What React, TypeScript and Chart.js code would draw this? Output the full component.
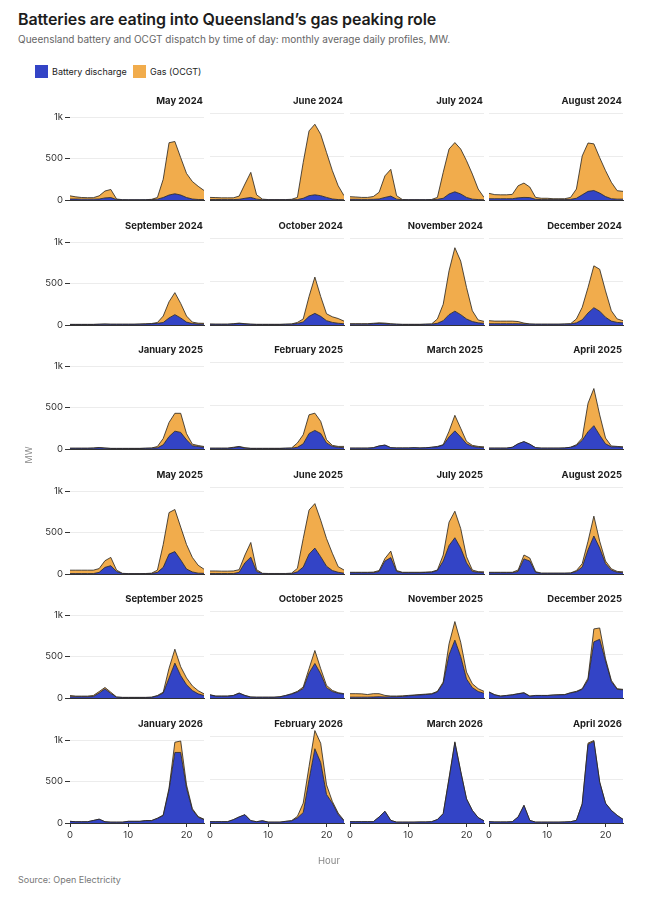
import React, { useEffect, useRef } from "react";
import { Chart, registerables } from "chart.js";

Chart.register(...registerables);

// ---------- data ----------
const MONTHS = [
  "May 2024", "June 2024", "July 2024", "August 2024",
  "September 2024", "October 2024", "November 2024", "December 2024",
  "January 2025", "February 2025", "March 2025", "April 2025",
  "May 2025", "June 2025", "July 2025", "August 2025",
  "September 2025", "October 2025", "November 2025", "December 2025",
  "January 2026", "February 2026", "March 2026", "April 2026",
];

const HOURS = [0, 1, 2, 3, 4, 5, 6, 7, 8, 9, 10, 11, 12, 13, 14, 15, 16, 17, 18, 19, 20, 21, 22, 23];

const Y_TICKS = [0, 500, 1000];
const Y_TICK_LABELS = ["0", "500", "1k"];
const X_TICKS = [0, 10, 20];
const X_TICK_LABELS = ["0", "10", "20"];

// Battery discharge, MW, by hour (one row per month)
const BATTERY = [
  [12, 12, 10, 10, 10, 12, 25, 30, 5, 2, 2, 2, 2, 2, 4, 10, 30, 60, 75, 60, 30, 12, 6, 5],
  [6, 6, 5, 5, 5, 8, 20, 30, 10, 3, 2, 2, 2, 2, 3, 5, 20, 50, 60, 50, 30, 12, 5, 3],
  [8, 8, 7, 7, 8, 12, 30, 45, 10, 3, 2, 2, 2, 2, 3, 8, 20, 70, 95, 70, 30, 10, 5, 3],
  [15, 15, 15, 15, 15, 25, 30, 28, 8, 5, 5, 5, 5, 5, 8, 20, 60, 100, 110, 80, 40, 15, 10, 10],
  [6, 6, 6, 6, 6, 8, 10, 8, 8, 8, 8, 8, 10, 12, 15, 20, 30, 85, 125, 85, 35, 18, 12, 10],
  [8, 8, 8, 8, 12, 18, 12, 8, 6, 6, 6, 6, 6, 8, 10, 18, 35, 100, 135, 100, 50, 30, 20, 15],
  [10, 10, 10, 10, 15, 18, 15, 10, 8, 6, 6, 6, 6, 8, 10, 20, 50, 120, 160, 120, 70, 40, 25, 20],
  [15, 15, 15, 15, 15, 15, 12, 10, 8, 8, 8, 8, 8, 10, 12, 25, 60, 140, 200, 160, 90, 45, 30, 25],
  [8, 8, 8, 8, 10, 15, 10, 6, 6, 6, 6, 6, 6, 8, 10, 15, 50, 150, 215, 200, 110, 40, 30, 20],
  [8, 8, 8, 8, 15, 25, 10, 6, 6, 6, 6, 6, 6, 8, 10, 20, 60, 180, 215, 180, 70, 30, 20, 15],
  [10, 10, 10, 10, 15, 35, 45, 15, 12, 12, 12, 15, 12, 14, 20, 25, 45, 140, 210, 140, 60, 30, 20, 15],
  [10, 10, 10, 10, 20, 60, 85, 55, 15, 10, 10, 10, 10, 12, 20, 40, 100, 200, 270, 160, 60, 25, 25, 20],
  [5, 5, 5, 5, 5, 20, 80, 100, 30, 5, 3, 3, 3, 4, 6, 20, 80, 240, 270, 170, 60, 25, 10, 8],
  [5, 5, 5, 5, 5, 20, 130, 195, 30, 5, 3, 3, 3, 3, 5, 25, 80, 230, 300, 200, 90, 40, 20, 10],
  [15, 15, 15, 15, 15, 30, 150, 190, 30, 15, 15, 15, 15, 18, 20, 40, 150, 330, 420, 300, 130, 30, 20, 15],
  [15, 15, 15, 15, 15, 30, 175, 150, 20, 8, 8, 8, 8, 8, 10, 30, 80, 280, 440, 300, 120, 45, 20, 15],
  [15, 15, 15, 15, 18, 60, 110, 55, 10, 6, 6, 6, 6, 6, 8, 25, 60, 240, 420, 270, 160, 90, 50, 30],
  [35, 20, 20, 20, 28, 55, 28, 10, 8, 8, 8, 8, 13, 28, 45, 70, 110, 290, 400, 280, 120, 75, 55, 45],
  [10, 10, 10, 10, 12, 15, 12, 15, 15, 18, 25, 30, 35, 40, 45, 70, 170, 500, 670, 480, 220, 120, 75, 55],
  [68, 35, 20, 28, 35, 48, 58, 20, 28, 28, 28, 33, 36, 38, 58, 72, 100, 210, 650, 680, 430, 190, 100, 95],
  [20, 15, 15, 15, 30, 46, 15, 10, 10, 10, 20, 20, 20, 28, 28, 55, 90, 400, 850, 850, 420, 160, 70, 40],
  [15, 15, 15, 15, 38, 70, 96, 27, 15, 25, 10, 10, 10, 18, 25, 60, 120, 500, 860, 700, 330, 230, 100, 25],
  [15, 15, 15, 15, 15, 70, 135, 30, 10, 10, 10, 10, 12, 12, 15, 40, 108, 510, 930, 595, 278, 145, 62, 25],
  [15, 12, 12, 12, 15, 70, 204, 30, 10, 10, 10, 10, 10, 12, 15, 30, 220, 910, 945, 470, 228, 145, 88, 42],
];

// Gas (OCGT), MW, by hour (one row per month)
const GAS = [
  [38, 26, 20, 18, 18, 38, 83, 97, 7, 2, 1, 1, 1, 2, 4, 20, 220, 630, 630, 450, 290, 211, 159, 110],
  [24, 22, 20, 20, 20, 37, 165, 290, 50, 7, 3, 3, 3, 3, 5, 25, 415, 750, 817, 710, 520, 328, 160, 47],
  [30, 27, 23, 23, 32, 78, 250, 310, 40, 2, 2, 2, 2, 2, 3, 22, 300, 520, 570, 520, 425, 290, 122, 27],
  [62, 47, 45, 45, 50, 140, 166, 122, 22, 15, 15, 10, 10, 10, 22, 107, 450, 560, 540, 410, 300, 190, 98, 90],
  [2, 2, 2, 2, 2, 2, 2, 2, 2, 2, 2, 2, 2, 2, 3, 10, 78, 195, 265, 175, 73, 17, 10, 10],
  [4, 2, 2, 2, 3, 4, 3, 2, 2, 2, 2, 2, 2, 2, 2, 12, 35, 230, 420, 230, 80, 65, 55, 30],
  [5, 5, 5, 5, 5, 7, 7, 5, 2, 2, 2, 2, 2, 2, 2, 50, 190, 507, 735, 620, 365, 125, 33, 22],
  [35, 30, 30, 30, 30, 25, 10, 2, 2, 2, 2, 2, 2, 2, 3, 45, 145, 295, 485, 485, 305, 120, 40, 25],
  [2, 2, 2, 2, 2, 3, 2, 2, 2, 2, 2, 2, 2, 2, 2, 15, 77, 170, 215, 230, 75, 18, 12, 10],
  [2, 2, 2, 2, 5, 5, 5, 2, 2, 2, 2, 2, 2, 2, 2, 50, 105, 216, 200, 140, 38, 12, 10, 15],
  [0, 0, 0, 0, 0, 0, 0, 0, 0, 0, 0, 0, 0, 0, 0, 5, 5, 65, 180, 100, 28, 12, 10, 10],
  [0, 0, 0, 0, 0, 0, 0, 0, 0, 0, 0, 0, 0, 0, 0, 10, 27, 330, 430, 235, 67, 10, 5, 5],
  [41, 41, 41, 41, 41, 45, 80, 100, 16, 3, 2, 2, 2, 2, 4, 26, 275, 500, 507, 395, 295, 175, 95, 50],
  [30, 30, 28, 28, 30, 30, 90, 170, 20, 3, 3, 3, 3, 3, 5, 40, 330, 510, 515, 423, 320, 200, 65, 36],
  [5, 5, 5, 5, 7, 10, 30, 75, 10, 5, 5, 5, 5, 4, 5, 6, 70, 270, 307, 227, 70, 16, 7, 10],
  [5, 5, 5, 5, 5, 16, 45, 35, 7, 2, 2, 2, 2, 2, 2, 10, 40, 100, 230, 80, 30, 15, 10, 10],
  [15, 8, 8, 8, 12, 17, 17, 15, 2, 2, 2, 2, 2, 2, 2, 5, 10, 118, 168, 107, 82, 56, 38, 20],
  [3, 3, 3, 3, 2, 3, 2, 2, 2, 2, 2, 2, 2, 2, 5, 7, 17, 50, 150, 60, 26, 13, 7, 5],
  [40, 40, 38, 30, 38, 35, 18, 8, 8, 7, 5, 5, 5, 5, 5, 7, 15, 127, 215, 166, 80, 45, 33, 22],
  [2, 3, 3, 2, 3, 2, 4, 3, 2, 2, 2, 2, 2, 2, 4, 5, 8, 20, 150, 131, 24, 14, 8, 5],
  [0, 0, 0, 0, 0, 0, 0, 0, 0, 0, 0, 0, 0, 2, 2, 3, 6, 20, 123, 138, 40, 13, 7, 6],
  [0, 0, 0, 0, 0, 0, 0, 0, 0, 2, 0, 0, 0, 2, 2, 17, 110, 154, 210, 223, 112, 20, 15, 5],
  [0, 0, 0, 0, 0, 0, 0, 0, 0, 0, 0, 0, 0, 0, 0, 0, 2, 10, 10, 5, 2, 1, 0, 0],
  [0, 0, 0, 0, 0, 0, 0, 0, 0, 0, 0, 0, 0, 0, 0, 0, 3, 15, 10, 5, 2, 1, 0, 0],
];

// ---------- style / layout ----------
const BLUE = "rgb(51, 68, 198)";
const ORANGE = "rgb(241, 172, 76)";
const OUTLINE = "rgba(40, 36, 30, 0.9)";
const FONT = "Inter, 'Noto Sans', sans-serif";

const COL_LEFT = [70, 210, 350, 489];
const ROW_ZERO = [200, 325, 449, 574, 698, 823];
const PLOT_W = 134;
const PLOT_H = 95; // 0..1100 MW
const Y_MAX = 1100;
const PAD_TOP = 4;
const PAD_RIGHT = 4;
const PAD_BOTTOM = 9;
const Y_AXIS_W = 50;
const X_AXIS_H = 22;

function Panel({ idx }: { idx: number }) {
  const ref = useRef<HTMLCanvasElement>(null);
  const r = Math.floor(idx / 4);
  const c = idx % 4;
  const leftExtra = c === 0 ? Y_AXIS_W : 10;
  const bottomExtra = r === 5 ? X_AXIS_H : PAD_BOTTOM;
  const width = leftExtra + PLOT_W + PAD_RIGHT;
  const height = PAD_TOP + PLOT_H + bottomExtra;
  const left = COL_LEFT[c] - leftExtra;
  const top = ROW_ZERO[r] - PLOT_H - PAD_TOP;

  useEffect(() => {
    if (!ref.current) return;
    const toPts = (arr: number[]) => arr.map((v, i) => ({ x: HOURS[i], y: v }));
    const chart = new Chart(ref.current, {
      type: "line",
      data: {
        datasets: [
          {
            label: "Battery discharge",
            data: toPts(BATTERY[idx]),
            fill: "origin",
            backgroundColor: BLUE,
            borderColor: OUTLINE,
            borderWidth: 0.9,
            pointRadius: 0,
            tension: 0,
          },
          {
            label: "Gas (OCGT)",
            data: toPts(GAS[idx]),
            fill: "-1",
            backgroundColor: ORANGE,
            borderColor: OUTLINE,
            borderWidth: 0.9,
            pointRadius: 0,
            tension: 0,
          },
        ],
      },
      options: {
        animation: false,
        responsive: true,
        maintainAspectRatio: false,
        layout: {
          padding: {
            left: c === 0 ? 0 : 10,
            right: PAD_RIGHT,
            top: PAD_TOP,
            bottom: r === 5 ? 0 : PAD_BOTTOM,
          },
        },
        plugins: {
          legend: { display: false },
          tooltip: { enabled: false },
          title: { display: false },
        },
        scales: {
          x: {
            type: "linear",
            min: 0,
            max: 23,
            afterBuildTicks: (s: any) => {
              s.ticks = X_TICKS.map((v) => ({ value: v }));
            },
            afterFit: (s: any) => {
              s.height = r === 5 ? X_AXIS_H : 0;
            },
            ticks: {
              display: r === 5,
              padding: 2,
              color: "#333",
              font: { family: FONT, size: 9.5 },
              maxRotation: 0,
              callback: (v: any) => {
                const i = X_TICKS.indexOf(Number(v));
                return i >= 0 ? X_TICK_LABELS[i] : "";
              },
            },
            grid: {
              drawOnChartArea: false,
              drawTicks: r === 5,
              tickLength: 4,
              tickColor: "#333",
              tickWidth: 1,
            },
            border: { display: true, color: "#333", width: 1, z: 1 },
          },
          y: {
            type: "linear",
            stacked: true,
            min: 0,
            max: Y_MAX,
            afterBuildTicks: (s: any) => {
              s.ticks = Y_TICKS.map((v) => ({ value: v }));
            },
            afterFit: (s: any) => {
              s.width = c === 0 ? Y_AXIS_W : 0;
            },
            ticks: {
              display: c === 0,
              padding: 2,
              color: "#333",
              font: { family: FONT, size: 9.5 },
              callback: (v: any) => {
                const i = Y_TICKS.indexOf(Number(v));
                return i >= 0 ? Y_TICK_LABELS[i] : "";
              },
            },
            grid: {
              color: "#ececec",
              lineWidth: 1,
              drawTicks: c === 0,
              tickLength: 5,
              tickColor: "#333",
              tickWidth: 1,
            },
            border: { display: false },
          },
        },
      },
    });
    return () => chart.destroy();
  }, [idx]);

  return (
    <>
      <div style={{ position: "absolute", left, top, width, height }}>
        <canvas ref={ref} />
      </div>
      <div
        style={{
          position: "absolute",
          left: COL_LEFT[c],
          width: PLOT_W - 1,
          top: ROW_ZERO[r] - 106,
          height: 13,
          lineHeight: "13px",
          textAlign: "right",
          fontSize: 9.5,
          fontWeight: 700,
          color: "#1c1c1c",
          whiteSpace: "nowrap",
        }}
      >
        {MONTHS[idx]}
      </div>
    </>
  );
}

export default function App() {
  return (
    <div
      style={{
        position: "absolute",
        left: 0,
        top: 0,
        width: 658,
        height: 900,
        background: "#fff",
        fontFamily: FONT,
        color: "#1c1c1c",
        overflow: "hidden",
      }}
    >
      <div
        style={{
          position: "absolute",
          left: 18,
          top: 9,
          fontSize: 16,
          lineHeight: "20px",
          fontWeight: 600,
          whiteSpace: "nowrap",
          letterSpacing: -0.1,
        }}
      >
        Batteries are eating into Queensland’s gas peaking role
      </div>
      <div
        style={{
          position: "absolute",
          left: 18,
          top: 32,
          fontSize: 10,
          lineHeight: "14px",
          color: "#666",
          whiteSpace: "nowrap",
        }}
      >
        Queensland battery and OCGT dispatch by time of day: monthly average daily profiles, MW.
      </div>

      {/* legend */}
      <div style={{ position: "absolute", left: 35, top: 65, width: 13, height: 13, background: BLUE }} />
      <div style={{ position: "absolute", left: 52, top: 65, lineHeight: "13px", fontSize: 9, color: "#222", whiteSpace: "nowrap" }}>
        Battery discharge
      </div>
      <div style={{ position: "absolute", left: 133, top: 65, width: 13, height: 13, background: ORANGE }} />
      <div style={{ position: "absolute", left: 150, top: 65, lineHeight: "13px", fontSize: 9, color: "#222", whiteSpace: "nowrap" }}>
        Gas (OCGT)
      </div>

      {MONTHS.map((_, i) => (
        <Panel key={i} idx={i} />
      ))}

      {/* axis titles */}
      <div
        style={{
          position: "absolute",
          left: 28,
          top: 455,
          transform: "translate(-50%, -50%) rotate(-90deg)",
          fontSize: 9,
          color: "#888",
          whiteSpace: "nowrap",
        }}
      >
        MW
      </div>
      <div
        style={{
          position: "absolute",
          left: 329,
          top: 860,
          transform: "translate(-50%, -50%)",
          fontSize: 9.5,
          color: "#888",
          whiteSpace: "nowrap",
        }}
      >
        Hour
      </div>
      <div
        style={{
          position: "absolute",
          left: 18,
          top: 874,
          fontSize: 9,
          lineHeight: "12px",
          color: "#777",
          whiteSpace: "nowrap",
        }}
      >
        Source: Open Electricity
      </div>
    </div>
  );
}
